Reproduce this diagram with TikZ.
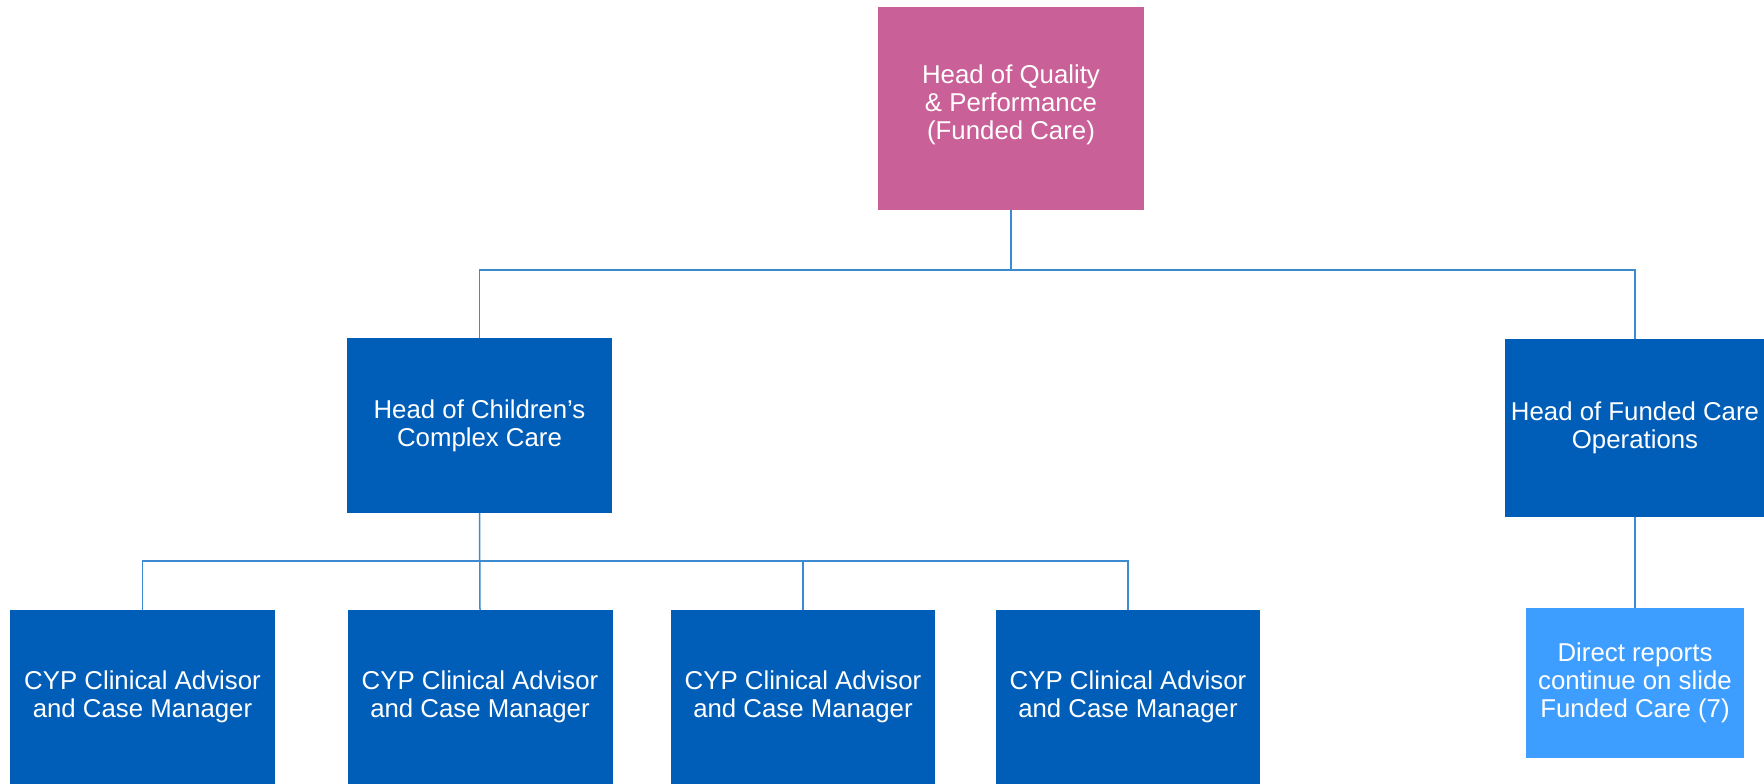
\documentclass[tikz,border=0pt]{standalone}
\usepackage{fontspec}
\setmainfont{Liberation Sans}
\definecolor{pinkc}{HTML}{C96198}
\definecolor{bluec}{HTML}{005EB8}
\definecolor{lightc}{HTML}{3E9EFF}
\definecolor{linec}{HTML}{3C8AD0}
\tikzset{
  box/.style={draw=none, text=white, align=center, inner sep=0pt,
    font=\fontsize{25.8}{28}\selectfont},
  pinkbox/.style={box, fill=pinkc, minimum width=266pt, minimum height=203pt},
  bluebox/.style={box, fill=bluec, minimum width=265pt, minimum height=175pt},
  lightbox/.style={box, fill=lightc, minimum width=218pt, minimum height=150pt},
  conn/.style={draw=linec, line width=1.5pt}
}
\begin{document}
\begin{tikzpicture}[x=1pt,y=-1pt]
\useasboundingbox (0,0) rectangle (1764,784);
\fill[white] (0,0) rectangle (1764,784);
\node[pinkbox] (top) at (1011,108.5) {Head of Quality\\\& Performance\\(Funded Care)\\[-16pt]\mbox{}};
\node[bluebox] (children) at (479.5,425.5) {Head of Children’s\\Complex Care};
\node[bluebox, minimum width=260pt, minimum height=178pt] (ops) at (1635,428) {Head of Funded Care\\Operations};
\node[bluebox, minimum height=174pt] (cyp1) at (142.5,697) {CYP Clinical Advisor\\and Case Manager};
\node[bluebox, minimum height=174pt] (cyp2) at (480,697) {CYP Clinical Advisor\\and Case Manager};
\node[bluebox, minimum height=174pt, minimum width=264pt] (cyp3) at (803,697) {CYP Clinical Advisor\\and Case Manager};
\node[bluebox, minimum height=174pt, minimum width=264pt] (cyp4) at (1128,697) {CYP Clinical Advisor\\and Case Manager};
\node[lightbox] (direct) at (1635,683) {Direct reports\\continue on slide\\Funded Care (7)};
\coordinate (bus1) at (1011,270);
\coordinate (bus2) at (479.5,561);
\draw[conn] (top.south) -- (bus1);
\draw[conn] (children.north) |- (bus1) -| (ops.north);
\draw[conn] (children.south) -- (cyp2.north);
\draw[conn] (cyp1.north) |- (bus2) -| (cyp4.north);
\draw[conn] (cyp3.north) -- (cyp3.north |- bus2);
\draw[conn] (ops.south) -- (direct.north);
\end{tikzpicture}
\end{document}
